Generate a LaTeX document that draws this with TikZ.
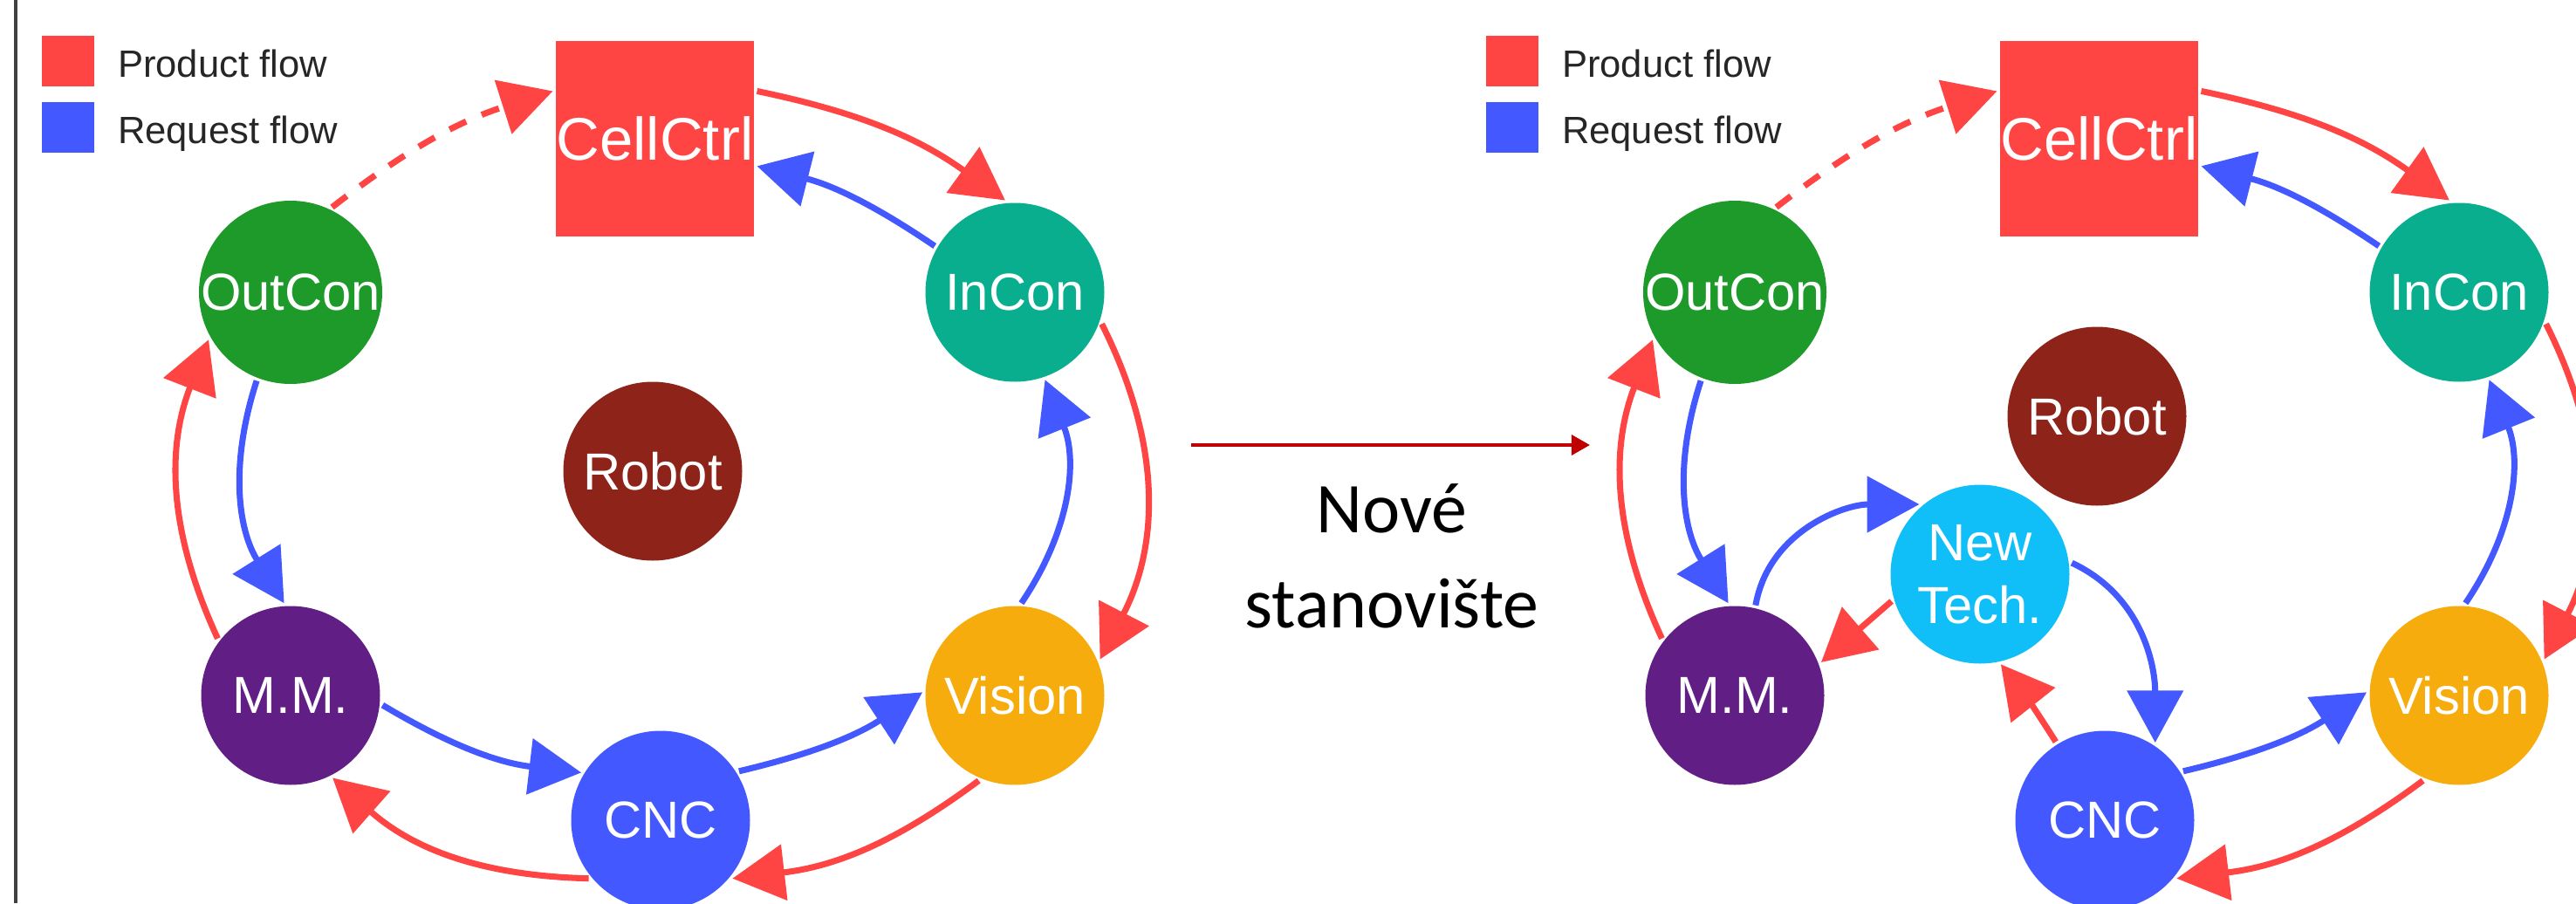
\documentclass[tikz,border=0pt]{standalone}
\usepackage{fontspec}
\setmainfont{Liberation Sans}
\newfontfamily\novefont{Carlito}
\usetikzlibrary{arrows.meta}
\usetikzlibrary{calc}

\definecolor{prodred}{HTML}{FF4444}
\definecolor{reqblue}{HTML}{4359FF}
\definecolor{outgreen}{HTML}{1E9A2A}
\definecolor{inteal}{HTML}{08AE8E}
\definecolor{robotbrown}{HTML}{8E2419}
\definecolor{mmpurple}{HTML}{611F85}
\definecolor{visionorange}{HTML}{F5AC0C}
\definecolor{newcyan}{HTML}{10BFF7}
\definecolor{arrowred}{HTML}{C00000}

\begin{document}
\begin{tikzpicture}[>={Triangle[length=17pt,width=18pt]}, line width=2pt,
    station/.style={circle, minimum size=2.05cm, inner sep=0pt, text=white,
      font=\fontsize{17}{20.5}\selectfont},
    key/.style={minimum width=0.6cm, minimum height=0.58cm, inner sep=0pt},
    legend/.style={anchor=base west, inner sep=0pt, text=black!85,
      font=\fontsize{12.4}{15}\selectfont},
    product/.style={->, prodred},
    request/.style={->, reqblue}]
      \useasboundingbox (0,0) rectangle (29.52,10.35);
      \clip (0,0) rectangle (29.52,10.35);

      % states
      \coordinate (left) at (0,0);
      \coordinate (right) at (16.55,0);

      \draw [line width=0.9pt, black!75] (0.18,0) -- (0.18,10.35);

      % diagram 1: the cell as it is
      \node [key, fill=prodred, name=lkey1] at ($(left) + (0.78,9.65)$) {};
      \node [legend] at ($(lkey1.east) + (0.2,-0.18)$) {Product flow};
      \node [key, fill=reqblue, name=lkey2] at ($(left) + (0.78,8.89)$) {};
      \node [legend] at ($(lkey2.east) + (0.2,-0.18)$) {Request flow};

      \node [fill=prodred, minimum width=2.27cm, minimum height=2.24cm, inner sep=0pt,
        text=white, font=\fontsize{19.6}{22}\selectfont, name=lcell] at
      ($(left) + (7.505,8.76)$) {CellCtrl};
      \node [station, fill=outgreen, name=lout] at ($(left) + (3.33,7.00)$) {OutCon};
      \node [station, fill=inteal, name=lin] at ($(left) + (11.63,7.00)$) {InCon};
      \node [station, fill=robotbrown, name=lrobot] at ($(left) + (7.48,4.95)$) {Robot};
      \node [station, fill=mmpurple, name=lmm] at ($(left) + (3.33,2.38)$) {M.M.};
      \node [station, fill=visionorange, name=lvision] at ($(left) + (11.63,2.38)$) {Vision};
      \node [station, fill=reqblue, name=lcnc] at ($(left) + (7.57,0.95)$) {CNC};

      \draw [product] (lcell.25) to [bend left=12] (lin.96);
      \draw [product] (lin.-20) to [bend left=27] (lvision.23);
      \draw [product] (lvision.-113) to [bend left=15] (lcnc.-39);
      \draw [product] (lcnc.-141) to [bend left=20] (lmm.-63);
      \draw [product] (lmm.142) to [bend left=23] (lout.210);
      \draw [product, dash pattern=on 6pt off 5.5pt] (lout.64) to [bend left=10] (lcell.155);

      \draw [request] (lin.150) to [bend right=10] (lcell.-15);
      \draw [request] (lvision.86) to [bend right=28] (lin.-71);
      \draw [request] (lcnc.32) to [bend right=10] (lvision.178);
      \draw [request] (lmm.-6) to [bend right=12] (lcnc.149);
      \draw [request] (lout.-111) to [bend right=25] (lmm.94);

      % the arrow between both
      \coordinate (ns1) at (13.65,5.25);
      \coordinate (ns2) at (18.22,5.25);
      \draw [-{Triangle[length=6pt,width=6.5pt]}, line width=1.1pt, arrowred] (ns1) -- (ns2);
      \node [align=center, font=\novefont\fontsize{23.3}{31}\selectfont, name=nove] at
      (15.95,3.98) {Nové\\stanovište};

      % diagram 2: the cell with the new station
      \node [key, fill=prodred, name=rkey1] at ($(right) + (0.78,9.65)$) {};
      \node [legend] at ($(rkey1.east) + (0.2,-0.18)$) {Product flow};
      \node [key, fill=reqblue, name=rkey2] at ($(right) + (0.78,8.89)$) {};
      \node [legend] at ($(rkey2.east) + (0.2,-0.18)$) {Request flow};

      \node [fill=prodred, minimum width=2.27cm, minimum height=2.24cm, inner sep=0pt,
        text=white, font=\fontsize{19.6}{22}\selectfont, name=rcell] at
      ($(right) + (7.505,8.76)$) {CellCtrl};
      \node [station, fill=outgreen, name=rout] at ($(right) + (3.33,7.00)$) {OutCon};
      \node [station, fill=inteal, name=rin] at ($(right) + (11.63,7.00)$) {InCon};
      \node [station, fill=robotbrown, name=rrobot] at ($(right) + (7.48,5.58)$) {Robot};
      \node [station, fill=newcyan, align=center, name=rnew] at ($(right) + (6.14,3.77)$) {New\\Tech.};
      \node [station, fill=mmpurple, name=rmm] at ($(right) + (3.33,2.38)$) {M.M.};
      \node [station, fill=visionorange, name=rvision] at ($(right) + (11.63,2.38)$) {Vision};
      \node [station, fill=reqblue, name=rcnc] at ($(right) + (7.57,0.95)$) {CNC};

      \draw [product] (rcell.25) to [bend left=12] (rin.96);
      \draw [product] (rin.-20) to [bend left=27] (rvision.23);
      \draw [product] (rvision.-113) to [bend left=15] (rcnc.-39);
      \draw [product] (rcnc.122) to [bend right=3] (rnew.-77);
      \draw [product] (rnew.197) to (rmm.21);
      \draw [product] (rmm.142) to [bend left=23] (rout.210);
      \draw [product, dash pattern=on 6pt off 5.5pt] (rout.64) to [bend left=10] (rcell.155);

      \draw [request] (rin.150) to [bend right=10] (rcell.-15);
      \draw [request] (rvision.86) to [bend right=28] (rin.-71);
      \draw [request] (rcnc.32) to [bend right=10] (rvision.178);
      \draw [request] (rmm.77) to [out=80, in=180] (rnew.131);
      \draw [request] (rnew.7) to [out=-25, in=90] (rcnc.57);
      \draw [request] (rout.-111) to [bend right=25] (rmm.94);
\end{tikzpicture}
\end{document}
